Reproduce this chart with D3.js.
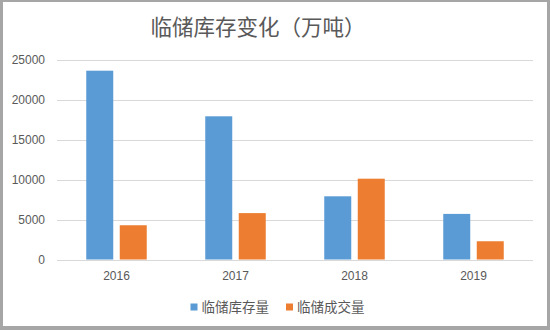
<!DOCTYPE html>
<html>
<head>
<meta charset="utf-8">
<script src="https://cdn.jsdelivr.net/npm/d3@7"></script>
<style>
  html, body { margin: 0; padding: 0; background: #fff; }
  svg { display: block; }
</style>
</head>
<body>
<svg id="chart" width="550" height="330"></svg>
<script>
// Yearly temporary-reserve figures (10k tonnes)
const years = ["2016", "2017", "2018", "2019"];
const stockValues = [23600, 17900, 7900, 5700];   // 临储库存量
const dealValues = [4280, 5800, 10100, 2280];     // 临储成交量
const seriesNames = ["临储库存量", "临储成交量"];
const yTicks = [0, 5000, 10000, 15000, 20000, 25000];

const colors = ["#5b9bd5", "#ed7d31"];
const fontCJK = "'Noto Sans CJK SC', 'Noto Sans', sans-serif";
const fontNum = "'Liberation Sans', Arial, sans-serif";
const textColor = "#595959";

const svg = d3.select("#chart");
const W = 550, H = 330;

// outer frame
svg.append("rect").attr("x", 0).attr("y", 0).attr("width", W).attr("height", H).attr("fill", "#a6a6a6");
svg.append("rect").attr("x", 3).attr("y", 2).attr("width", W - 6).attr("height", H - 6).attr("fill", "#ffffff");

const plot = { left: 57, right: 533, top: 59.5, bottom: 259.5 };

const x = d3.scaleBand().domain(years).range([plot.left, plot.right]);
const y = d3.scaleLinear().domain([0, 25000]).range([plot.bottom, plot.top]);

// gridlines
svg.append("g")
  .selectAll("line")
  .data(yTicks)
  .join("line")
  .attr("x1", plot.left).attr("x2", plot.right)
  .attr("y1", d => Math.round(y(d)) + 0.5).attr("y2", d => Math.round(y(d)) + 0.5)
  .attr("stroke", "#d9d9d9").attr("stroke-width", 1);

// y axis labels
const yAxis = d3.axisLeft(y).tickValues(yTicks).tickSize(0).tickPadding(0).tickFormat(d3.format("d"));
const gy = svg.append("g").attr("transform", "translate(45,0)").call(yAxis);
gy.select(".domain").remove();
gy.selectAll("text").attr("fill", textColor).style("font-family", fontNum).style("font-size", "12px");

// x axis labels
const xAxis = d3.axisBottom(x).tickSize(0).tickPadding(0);
const gx = svg.append("g").attr("transform", `translate(0,${plot.bottom + 12})`).call(xAxis);
gx.select(".domain").remove();
gx.selectAll("text").attr("fill", textColor).style("font-family", fontNum).style("font-size", "12px");

// grouped bars: two bars per year, centred on the band
const barW = 27, gap = 6.5;
const series = [stockValues, dealValues];
series.forEach((vals, si) => {
  svg.append("g")
    .selectAll("rect")
    .data(vals.map((v, i) => ({ year: years[i], value: v })))
    .join("rect")
    .attr("x", d => x(d.year) + x.bandwidth() / 2 + (si === 0 ? -(barW + gap / 2) : gap / 2))
    .attr("width", barW)
    .attr("y", d => y(d.value))
    .attr("height", d => y(0) - y(d.value))
    .attr("fill", colors[si]);
});

// title
svg.append("text")
  .attr("x", 258).attr("y", 35)
  .attr("text-anchor", "middle")
  .attr("fill", textColor)
  .style("font-family", fontCJK)
  .style("font-size", "21.5px")
  .text("临储库存变化（万吨）");

// legend
const legendX = [190.5, 286];
seriesNames.forEach((name, i) => {
  svg.append("rect")
    .attr("x", legendX[i]).attr("y", 303.5)
    .attr("width", 7).attr("height", 7)
    .attr("fill", colors[i]);
  svg.append("text")
    .attr("x", legendX[i] + 11).attr("y", 312)
    .attr("fill", textColor)
    .style("font-family", fontCJK)
    .style("font-size", "13.5px")
    .text(name);
});
</script>
</body>
</html>
